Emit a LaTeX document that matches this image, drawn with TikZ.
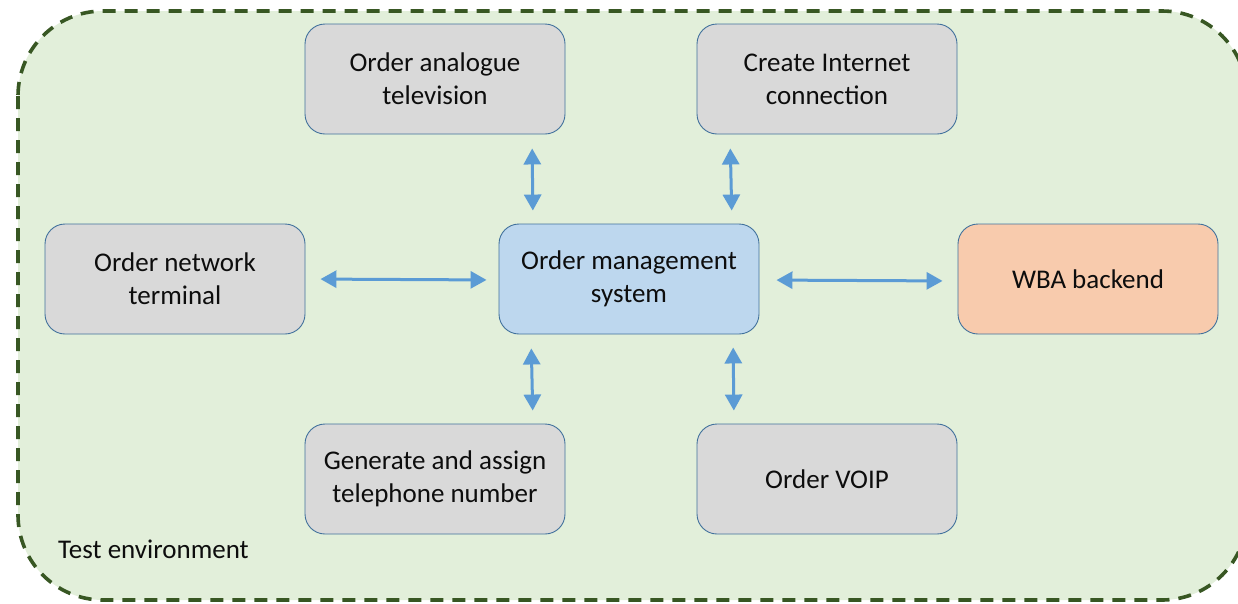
\documentclass[tikz,border=0pt]{standalone}
\usepackage{fontspec}
\setmainfont{Carlito}
\usetikzlibrary{arrows.meta}
\definecolor{envfill}{HTML}{E2EFDA}
\definecolor{envline}{HTML}{385723}
\definecolor{boxgray}{HTML}{D9D9D9}
\definecolor{boxline}{HTML}{41719C}
\definecolor{boxblue}{HTML}{BDD7EE}
\definecolor{boxorange}{HTML}{F8CBAD}
\definecolor{arrblue}{HTML}{5B9BD5}
\tikzset{
  sysbox/.style={draw=boxline, line width=0.9pt, fill=boxgray, rounded corners=20pt,
    minimum width=260pt, minimum height=110pt, inner sep=0pt, align=center,
    font=\fontsize{27}{33}\selectfont, text=black!95},
  arr/.style={draw=arrblue, line width=3pt, {Triangle[length=16pt,width=17pt]}-{Triangle[length=16pt,width=17pt]}},
}
\begin{document}
\begin{tikzpicture}[x=1pt,y=-1pt]
\useasboundingbox (0,0) rectangle (1238,603);
\begin{scope}
\clip (0,0) rectangle (1238,603);
\draw[fill=envfill, draw=envline, line width=3.6pt, dash pattern=on 13pt off 9pt, rounded corners=85pt]
  (18,11) rectangle (1247,600);
\end{scope}
\node[sysbox] (ana) at (435,79) {Order analogue\\television};
\node[sysbox] (cnt) at (827,79) {Create Internet\\connection};
\node[sysbox] (net) at (175,279) {Order network\\terminal};
\node[sysbox, fill=boxblue] (oms) at (629,279) {Order management\\system};
\node[sysbox, fill=boxorange] (wba) at (1088,279) {WBA backend};
\node[sysbox] (gen) at (435,479) {Generate and assign\\telephone number};
\node[sysbox] (voip) at (827,479) {Order VOIP};
\node[anchor=base west, font=\fontsize{27}{30}\selectfont, text=black!95, inner sep=0pt] (env) at (58,558) {Test environment};
\draw[arr, shorten <=14pt, shorten >=13pt] ([xshift=97pt]ana.south) -- ([xshift=-96pt]oms.north);
\draw[arr, shorten <=14pt, shorten >=13pt] ([xshift=-97pt]cnt.south) -- ([xshift=103pt]oms.north);
\draw[arr, shorten <=15pt, shorten >=12pt] (net.east) -- ([yshift=-1pt]oms.west);
\draw[arr, shorten <=17pt, shorten >=15pt] ([yshift=-1pt]oms.east) -- ([yshift=-2pt]wba.west);
\draw[arr, shorten <=14pt, shorten >=13pt] ([xshift=-98pt]oms.south) -- ([xshift=98pt]gen.north);
\draw[arr, shorten <=13pt, shorten >=13pt] ([xshift=104pt]oms.south) -- ([xshift=-93pt]voip.north);
\end{tikzpicture}
\end{document}
